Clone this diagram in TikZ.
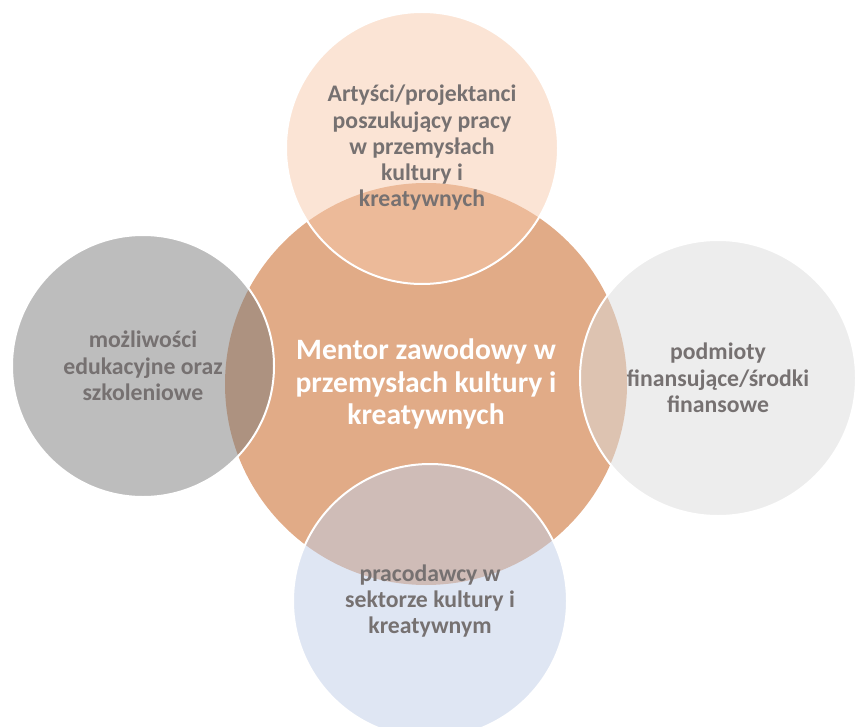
\documentclass[tikz,border=0pt]{standalone}
\usepackage{fontspec}
\setmainfont{Carlito}
\usepackage{xcolor}
\definecolor{srodek}{HTML}{E1AB87}
\definecolor{artysci}{HTML}{F7C9AB}
\definecolor{edukacja}{HTML}{7B7B7B}
\definecolor{finanse}{HTML}{DBDBDB}
\definecolor{pracodawcy}{HTML}{BFCDE7}
\definecolor{tekst}{HTML}{767171}

\begin{document}
\begin{tikzpicture}[x=0.75pt,y=-0.75pt,
    kolo/.style={circle,draw=white,line width=1.5pt,fill opacity=0.5,text opacity=1,
        inner sep=0pt,align=center,text=tekst,font=\fontsize{17.8}{19.7}\selectfont\bfseries}]
    \useasboundingbox (0,0) rectangle (856,727);
    % srodek
    \node[circle,fill=srodek,minimum size=301.5pt,inner sep=0pt,align=center,text=white,
        font=\fontsize{22.2}{24.7}\selectfont\bfseries] (mentor) at (426,384)
        {Mentor zawodowy w\\przemysłach kultury i\\kreatywnych};
    % kola dookola
    \node[kolo,fill=artysci,minimum size=204pt] (artysci) at (422,148)
        {Artyści/projektanci\\poszukujący pracy\\w przemysłach\\kultury i\\kreatywnych};
    \node[kolo,fill=edukacja,minimum size=196.5pt] (edukacja) at (143,366)
        {możliwości\\edukacyjne oraz\\szkoleniowe};
    \node[kolo,fill=finanse,minimum size=207pt] (finanse) at (718,378)
        {podmioty\\finansujące/środki\\finansowe};
    \node[kolo,fill=pracodawcy,minimum size=205.5pt] (pracodawcy) at (430,601)
        {pracodawcy w\\sektorze kultury i\\kreatywnym};
\end{tikzpicture}
\end{document}
